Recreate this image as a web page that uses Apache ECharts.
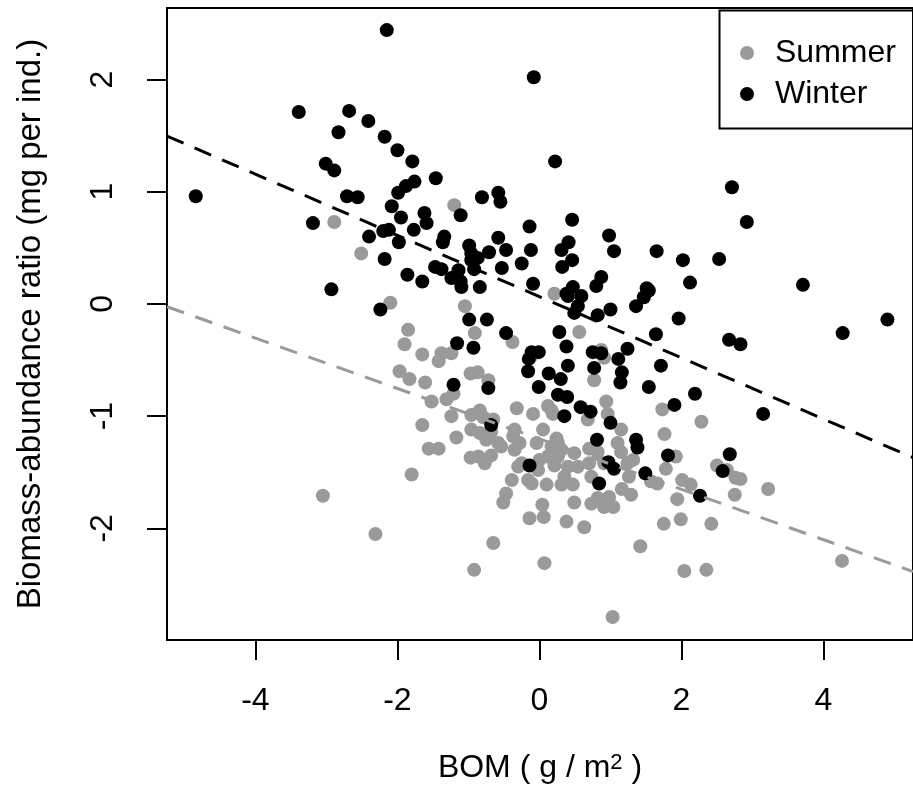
<!DOCTYPE html>
<html>
<head>
<meta charset="utf-8">
<script src="https://cdn.jsdelivr.net/npm/echarts@6/dist/echarts.min.js"></script>
<style>html,body{margin:0;padding:0;background:#fff}#c{width:913px;height:798px}</style>
</head>
<body>
<div id="c"></div>
<script>
const xTicks = [-4, -2, 0, 2, 4];
const yTicks = [-2, -1, 0, 1, 2];
const seriesNames = ['Summer', 'Winter'];
// regression lines: [intercept, slope]
const summerFit = [-1.203, -0.2246];
const winterFit = [0.065, -0.2728];

const winter = [
[-4.84,0.96],[-3.39,1.71],[-2.15,2.44],[-2.68,1.72],[-2.83,1.53],[-2.41,1.63],[-2.18,1.49],[-2.00,1.37],
[-1.79,1.27],[-1.46,1.12],[-1.76,1.09],[-1.88,1.05],[-1.99,0.99],[-2.08,0.87],[-1.95,0.77],[-1.77,0.66],
[-1.62,0.81],[-1.59,0.72],[-1.11,0.79],[-0.81,0.95],[-0.58,0.99],[-0.55,0.91],[-0.08,2.02],[-0.14,0.69],
[-0.12,0.48],[-0.25,0.36],[-0.09,0.18],[-3.01,1.25],[-2.89,1.19],[-2.71,0.96],[-2.56,0.95],[-3.19,0.72],
[-2.40,0.60],[-2.20,0.65],[-2.12,0.66],[-1.98,0.55],[-2.18,0.40],[-1.86,0.26],[-1.65,0.20],[-1.34,0.60],
[-1.36,0.55],[-0.99,0.52],[-0.71,0.46],[-0.58,0.59],[-0.47,0.48],[-0.53,0.32],[-1.47,0.33],[-1.38,0.31],
[-1.14,0.30],[-1.24,0.23],[-1.11,0.20],[-1.10,0.15],[-0.96,0.39],[-0.87,0.41],[-0.92,0.31],[-0.96,0.45],
[-0.84,0.15],[-2.93,0.13],[-2.24,-0.05],[-0.99,-0.14],[-0.74,-0.14],[-0.47,-0.26],[-1.16,-0.35],[-0.93,-0.39],
[0.22,1.27],[2.71,1.04],[2.92,0.73],[3.71,0.17],[4.90,-0.14],[4.27,-0.26],[2.67,-0.32],[2.83,-0.36],
[3.15,-0.98],[2.68,-1.34],[2.58,-1.49],[0.46,0.75],[0.98,0.61],[1.05,0.47],[1.65,0.47],[2.02,0.39],
[2.53,0.40],[2.12,0.19],[1.96,-0.13],[1.64,-0.27],[1.71,-0.55],[1.54,-0.74],[2.19,-0.80],[1.90,-0.90],
[1.51,0.14],[1.54,0.12],[1.47,0.06],[1.36,-0.02],[1.24,-0.40],[1.11,-0.49],[1.16,-0.61],[1.14,-0.70],
[1.00,-0.05],[0.82,-0.10],[0.87,0.24],[0.80,0.16],[0.47,0.15],[0.40,0.07],[0.49,-0.08],[0.59,0.07],
[0.54,-0.02],[0.38,0.09],[0.31,0.48],[0.41,0.55],[0.46,0.39],[0.32,0.33],[0.28,-0.25],[0.38,-0.38],
[-0.11,-0.43],[-0.01,-0.43],[-0.15,-0.49],[-0.16,-0.60],[0.13,-0.62],[0.30,-0.67],[0.40,-0.55],[-0.01,-0.74],
[0.26,-0.81],[0.39,-0.83],[0.35,-1.00],[0.58,-0.92],[0.72,-0.96],[0.75,-0.43],[0.87,-0.44],[0.77,-0.57],
[1.00,-1.06],[0.81,-1.21],[1.36,-1.21],[1.38,-1.28],[0.97,-1.41],[1.05,-1.47],[1.81,-1.35],[1.49,-1.51],
[-0.14,-1.44],[-0.68,-1.08],[-0.72,-0.75],[-1.21,-0.72],[0.84,-1.60],[2.26,-1.71]
];

const summer = [
[-2.89,0.73],[-2.51,0.45],[-1.20,0.88],[-2.10,0.01],[-1.85,-0.23],[-1.90,-0.36],[-1.65,-0.45],[-1.05,-0.02],
[-0.91,-0.26],[-0.38,-0.34],[-1.38,-0.44],[-1.24,-0.44],[-1.42,-0.51],[-1.97,-0.60],[-1.83,-0.67],[-1.61,-0.70],
[-1.52,-0.87],[-1.31,-0.85],[-1.21,-0.80],[-1.24,-1.00],[-0.97,-0.62],[-0.87,-0.61],[-0.72,-0.68],[-0.11,-0.46],
[-1.65,-1.08],[-1.56,-1.29],[-1.42,-1.29],[-1.17,-1.19],[-0.96,-0.99],[-0.84,-0.95],[-0.96,-1.12],[-0.75,-1.21],
[-0.68,-1.14],[-0.97,-1.37],[-0.77,-1.42],[-0.68,-1.35],[-0.54,-1.27],[-0.32,-0.93],[-0.09,-0.98],[-0.37,-1.18],
[-0.28,-1.24],[-0.35,-1.12],[-0.04,-1.24],[0.05,-1.12],[0.17,-0.95],[0.00,-1.39],[0.10,-1.61],[-0.30,-1.45],
[-0.39,-1.57],[-0.16,-1.57],[-0.11,-1.60],[-0.47,-1.69],[-0.51,-1.77],[0.04,-1.79],[0.06,-1.90],[-0.14,-1.91],
[-0.65,-2.13],[0.07,-2.31],[-0.92,-2.37],[-1.80,-1.52],[-2.31,-2.05],[-3.05,-1.71],[0.12,-0.91],[0.19,-0.98],
[0.94,-0.87],[0.96,-0.98],[1.73,-0.94],[2.28,-1.05],[1.76,-1.16],[1.92,-1.36],[1.78,-1.47],[2.50,-1.44],
[2.76,-1.55],[2.83,-1.56],[2.75,-1.70],[3.22,-1.65],[2.01,-1.57],[2.13,-1.61],[1.94,-1.74],[1.99,-1.92],
[1.75,-1.96],[2.42,-1.96],[1.42,-2.16],[2.04,-2.38],[2.35,-2.37],[4.26,-2.29],[1.03,-2.79],[0.63,-1.99],
[0.38,-1.94],[0.49,-1.77],[0.73,-1.78],[0.82,-1.73],[0.91,-1.81],[0.98,-1.72],[1.04,-1.81],[1.29,-1.70],
[1.16,-1.65],[0.31,-1.61],[0.47,-1.61],[0.35,-1.54],[0.40,-1.45],[0.54,-1.45],[0.17,-1.27],[0.24,-1.20],
[-0.86,-1.36],[-0.84,-1.15],[-0.79,-1.01],[-0.65,-1.03],[0.26,-1.36],[0.49,-1.33],[0.31,-1.30],[0.70,-1.29],
[0.82,-1.32],[1.10,-1.24],[1.15,-1.12],[1.32,-1.39],[1.26,-1.54],[1.57,-1.58],[1.66,-1.60],[0.73,-1.54],
[0.70,-1.42],[0.77,-0.68],[0.56,-0.25],[0.21,0.09],[0.87,-0.41],[0.91,-0.48],[0.68,-1.03],[-0.58,-1.24],
[-0.35,-1.30],[-0.25,-1.42],[0.12,-1.36],[0.26,-1.24],[0.21,-1.44],[-0.02,-1.48],[0.91,-1.42],[1.15,-1.32],
[1.24,-1.42],[2.64,-1.48]
];

const X_MIN = -5.245, X_MAX = 5.26, Y_MIN = -2.995, Y_MAX = 2.637;
const FONT = '"Liberation Sans", Arial, sans-serif';
const FS = 32;
const GRAY = '#9a9a9a';

function fitLine(c) {
  return [[X_MIN, c[0] + c[1] * X_MIN], [X_MAX, c[0] + c[1] * X_MAX]];
}

const chart = echarts.init(document.getElementById('c'), null, {renderer: 'canvas'});
chart.setOption({
  animation: false,
  backgroundColor: '#fff',
  textStyle: {fontFamily: FONT},
  grid: {left: 167, top: 8, width: 750, height: 632, show: true, borderColor: '#000', borderWidth: 2, backgroundColor: 'transparent'},
  xAxis: {
    type: 'value', min: X_MIN, max: X_MAX,
    name: 'BOM ( g / m{sup|2} )', nameLocation: 'middle', nameGap: 112,
    nameTextStyle: {fontSize: FS, color: '#000', fontFamily: FONT, rich: {sup: {fontSize: 22, verticalAlign: 'top', fontFamily: FONT, color: '#000'}}},
    axisLine: {show: false, onZero: false},
    axisTick: {show: true, length: 20, lineStyle: {color: '#000', width: 2}, customValues: xTicks},
    axisLabel: {fontSize: FS, color: '#000', fontFamily: FONT, margin: 45, customValues: xTicks, formatter: v => String(v)},
    splitLine: {show: false}
  },
  yAxis: {
    type: 'value', min: Y_MIN, max: Y_MAX,
    name: 'Biomass-abundance ratio (mg per ind.)', nameLocation: 'middle', nameGap: 120,
    nameTextStyle: {fontSize: 33, color: '#000', fontFamily: FONT},
    axisLine: {show: false, onZero: false},
    axisTick: {show: true, length: 20, lineStyle: {color: '#000', width: 2}, customValues: yTicks},
    axisLabel: {fontSize: FS, color: '#000', fontFamily: FONT, margin: 48, rotate: 90, customValues: yTicks, formatter: v => String(v)},
    splitLine: {show: false}
  },
  legend: {
    orient: 'vertical', left: 735, top: 32, itemWidth: 14, itemHeight: 14, itemGap: 9,
    icon: 'circle', data: seriesNames,
    textStyle: {fontSize: FS, color: '#000', fontFamily: FONT, lineHeight: 32, padding: [0, 0, 0, 16]}
  },
  graphic: [{type: 'rect', left: 717, top: 8, shape: {width: 230, height: 118}, style: {fill: 'none', stroke: '#000', lineWidth: 2}, z: 10}],
  series: [
    {name: 'Summer', type: 'scatter', data: summer, symbol: 'circle', symbolSize: 14, itemStyle: {color: GRAY, opacity: 1}, z: 2},
    {name: 'Winter', type: 'scatter', data: winter, symbol: 'circle', symbolSize: 14, itemStyle: {color: '#000', opacity: 1}, z: 3},
    {name: 'Summer fit', type: 'line', data: fitLine(summerFit), symbol: 'none', lineStyle: {color: GRAY, width: 3, type: [18, 12]}, z: 4, silent: true},
    {name: 'Winter fit', type: 'line', data: fitLine(winterFit), symbol: 'none', lineStyle: {color: '#000', width: 3, type: [18, 12]}, z: 4, silent: true}
  ]
});
</script>
</body>
</html>
